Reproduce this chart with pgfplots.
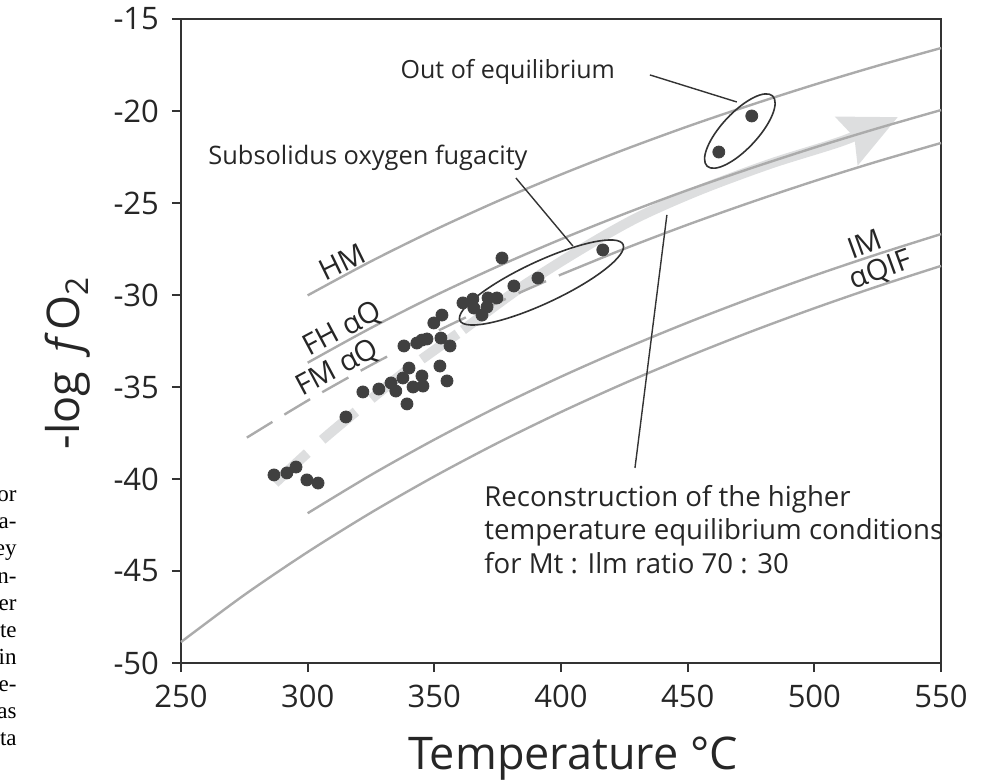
\documentclass[border=0pt]{standalone}
\usepackage{pgfplots}
\pgfplotsset{compat=1.18}
\usepackage{fontspec}
\setmainfont{Open Sans}
\newfontfamily\paperfont{Liberation Serif}
\usetikzlibrary{arrows.meta}
\definecolor{axiscol}{HTML}{333333}
\definecolor{txtcol}{HTML}{262626}
\definecolor{curvecol}{HTML}{ABABAB}
\definecolor{bandcol}{HTML}{DDDEDF}
\definecolor{ptcol}{HTML}{404040}
\begin{document}
\begin{tikzpicture}
\begin{axis}[
  scale only axis, width=380pt, height=322pt,
  xmin=250, xmax=550, ymin=-50, ymax=-15,
  xtick={250,300,350,400,450,500,550},
  ytick={-50,-45,-40,-35,-30,-25,-20,-15},
  xticklabels={250,300,350,400,450,500,550},
  yticklabels={-50,-45,-40,-35,-30,-25,-20,-15},
  tick pos=left, tick align=outside, major tick length=4.5pt,
  tick style={line width=1pt, color=axiscol},
  axis line style={line width=1.2pt, color=axiscol},
  ticklabel style={font=\fontsize{15.5}{17}\selectfont, text=txtcol},
  xticklabel style={yshift=-3pt},
  yticklabel style={xshift=-3pt},
  clip=false,
  every axis x label/.style={at={(axis description cs:0.5,0)}, anchor=base, xshift=6pt, yshift=-53pt},
  every axis y label/.style={at={(axis description cs:0,0.466)}, anchor=base, xshift=-50.5pt, rotate=90},
  label style={font=\fontsize{22.5}{26}\selectfont, text=txtcol},
  xlabel={Temperature °C},
  ylabel={-log\, {\itshape f}\,O\textsubscript{2}},
]
\coordinate (sw) at (rel axis cs:0,0);
\coordinate (ne) at (rel axis cs:1,1);
% reconstruction band
\addplot[bandcol, line width=5pt, dash pattern=on 22pt off 10pt, smooth] coordinates {
 (287.1,-40.22) (303,-38.2) (319.8,-36.25) (340,-34.0) (361.3,-31.90)};
\addplot[bandcol, line width=5pt, smooth, -{Stealth[length=28pt,width=26pt,inset=4pt]}] coordinates {
 (361.3,-31.90) (384,-29.6) (407.5,-27.55) (430,-25.8) (454.8,-24.29) (483,-22.85) (512,-21.58) (533,-20.33)};
% buffer curves
\addplot[curvecol, line width=1.2pt, smooth] coordinates {
 (300,-30.02) (325,-28.17) (350,-26.47) (375,-24.90) (400,-23.45) (425,-22.10) (450,-20.84) (475,-19.67) (500,-18.57) (525,-17.54) (550,-16.58)};
\addplot[curvecol, line width=1.2pt, smooth] coordinates {
 (300,-33.68) (325,-31.79) (350,-30.05) (375,-28.45) (400,-26.97) (425,-25.59) (450,-24.30) (475,-23.11) (500,-21.99) (525,-20.94) (550,-19.95)};
\addplot[curvecol, line width=1.2pt, smooth, dash pattern=on 15pt off 7pt] coordinates {
 (276,-37.75) (300,-35.74) (325,-33.81) (350,-32.04) (375,-30.41) (400,-28.89)};
\addplot[curvecol, line width=1.2pt, smooth] coordinates {
 (400,-28.89) (425,-27.49) (450,-26.18) (475,-24.96) (500,-23.81) (525,-22.74) (550,-21.74)};
\addplot[curvecol, line width=1.2pt, smooth] coordinates {
 (300,-41.86) (325,-39.78) (350,-37.86) (375,-36.08) (400,-34.44) (425,-32.92) (450,-31.50) (475,-30.18) (500,-28.94) (525,-27.78) (550,-26.69)};
\addplot[curvecol, line width=1.2pt, smooth] coordinates {
 (250,-48.86) (275,-46.30) (300,-43.97) (325,-41.83) (350,-39.86) (375,-38.04) (400,-36.36) (425,-34.80) (450,-33.35) (475,-31.99) (500,-30.72) (525,-29.53) (550,-28.42)};
% samples
\addplot[only marks, mark=*, mark size=3pt, ptcol, mark options={draw=ptcol, fill=ptcol}] coordinates {
 (286.7,-39.78) (291.8,-39.67) (295.4,-39.35) (299.7,-40.05) (304.1,-40.22)
 (315.1,-36.63) (321.8,-35.27) (328.1,-35.11) (332.9,-34.78) (334.8,-35.22)
 (337.6,-34.51) (338.0,-32.77) (340.0,-33.97) (341.6,-35.00) (339.2,-35.92)
 (345.1,-34.40) (345.5,-34.95) (343.1,-32.61) (345.1,-32.45) (347.1,-32.39)
 (352.2,-33.86) (352.6,-32.34) (355.0,-34.67) (356.2,-32.77) (349.8,-31.52)
 (353.0,-31.09) (361.3,-30.43) (365.2,-30.22) (365.6,-30.71) (370.8,-30.65)
 (368.8,-31.09) (371.2,-30.16) (374.7,-30.16) (381.4,-29.51) (390.9,-29.08)
 (376.7,-27.99) (416.5,-27.55) (462.3,-22.23) (475.3,-20.27)};
% ellipses and leaders
\draw[axiscol, line width=0.8pt, rotate around={25:(axis cs:392.3,-29.32)}] (axis cs:392.3,-29.32) ellipse [x radius=45pt, y radius=10.5pt];
\draw[axiscol, line width=0.8pt, rotate around={47:(axis cs:470.6,-21.09)}] (axis cs:470.6,-21.09) ellipse [x radius=24pt, y radius=9pt];
\draw[axiscol, line width=0.7pt] (axis cs:435.1,-18.04) -- (axis cs:469.4,-19.51);
\draw[axiscol, line width=0.7pt] (axis cs:382.2,-23.64) -- (axis cs:404.7,-27.34);
\draw[axiscol, line width=0.7pt] (axis cs:429.2,-39.40) -- (axis cs:441.8,-25.65);
% texts
\node[text=txtcol, font=\fontsize{12.5}{15}\selectfont] at (axis cs:379.0,-17.88) {Out of equilibrium};
\node[text=txtcol, font=\fontsize{12.7}{15}\selectfont] at (axis cs:323.8,-22.55) {Subsolidus oxygen fugacity};
\node[text=txtcol, font=\fontsize{13.8}{16.75}\selectfont, align=left, anchor=west, inner sep=0pt] at (axis cs:369.6,-42.74) {Reconstruction of the higher\\temperature equilibrium conditions\\for Mt : Ilm ratio 70 : 30};
\node[text=txtcol, inner sep=0pt, font=\fontsize{14.5}{16}\selectfont, rotate=26] at (axis cs:313.5,-28.21) {HM};
\node[text=txtcol, inner sep=0pt, font=\fontsize{14.5}{16}\selectfont, rotate=28] at (axis cs:313.9,-31.90) {FH αQ};
\node[text=txtcol, inner sep=0pt, font=\fontsize{14.5}{16}\selectfont, rotate=28] at (axis cs:311.9,-34.00) {FM αQ};
\node[text=txtcol, inner sep=0pt, font=\fontsize{14.5}{16}\selectfont, rotate=20] at (axis cs:519.9,-27.23) {IM};
\node[text=txtcol, inner sep=0pt, font=\fontsize{14.5}{16}\selectfont, rotate=20] at (axis cs:526.2,-28.70) {αQIF};
\end{axis}
\foreach \t [count=\i from 0] in {or,a-,ey,n-,er,te,in,e-,as,ta}
  \path (sw) ++(-82pt, {80.5pt-\i*13.5pt}) node[anchor=base east, inner sep=0pt, font=\paperfont\fontsize{11.5}{13.5}\selectfont] {\t};
\path (sw) ++(-90.5pt,-59pt) coordinate (bl);
\path (ne) ++(21.5pt,9.5pt) coordinate (tr);
\pgfresetboundingbox
\path (bl) rectangle (tr);
\end{tikzpicture}
\end{document}
